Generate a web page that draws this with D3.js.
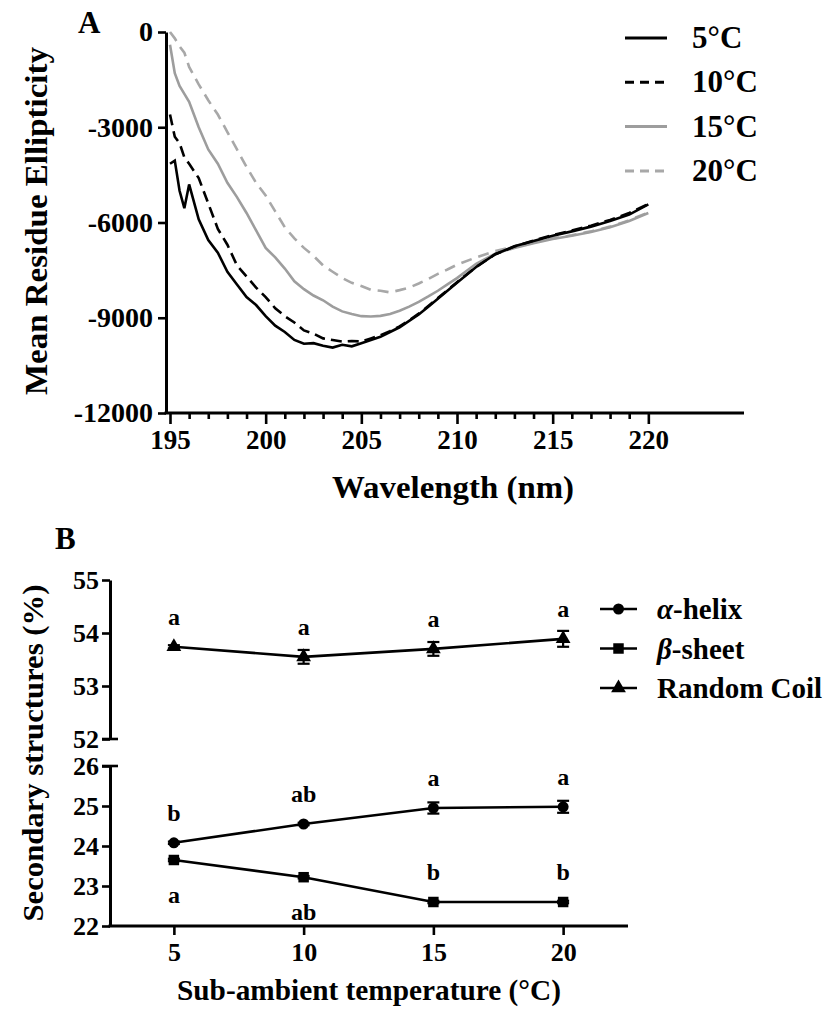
<!DOCTYPE html>
<html><head><meta charset="utf-8">
<script src="https://cdn.jsdelivr.net/npm/d3@7"></script>
<style>body{margin:0;background:#fff}svg{display:block}text{font-family:"Liberation Serif","Times New Roman",serif;font-weight:bold;fill:#000}</style>
</head><body>
<svg id="c" width="827" height="1019"></svg>
<script>
// ---------- Panel A data ----------
const wavelength = [195,195.25,195.5,195.75,196,196.5,197,197.5,198,198.5,199,199.5,200,200.5,201,201.5,202,202.5,203,203.5,204,204.5,205,205.5,206,206.5,207,207.5,208,208.5,209,209.5,210,211,212,213,214,215,216,217,218,219,220];
const cd5  = [-4150,-4050,-5000,-5550,-4800,-5900,-6550,-6950,-7550,-7950,-8350,-8600,-8950,-9250,-9450,-9700,-9820,-9800,-9880,-9940,-9850,-9900,-9800,-9700,-9600,-9450,-9300,-9100,-8900,-8650,-8400,-8150,-7900,-7400,-7000,-6750,-6580,-6420,-6280,-6130,-5950,-5750,-5430];
const cd10 = [-2600,-3300,-3500,-3950,-4150,-4600,-5400,-6200,-6700,-7350,-7700,-8050,-8350,-8700,-8950,-9150,-9400,-9500,-9650,-9700,-9750,-9730,-9750,-9650,-9550,-9420,-9270,-9080,-8870,-8630,-8380,-8130,-7880,-7400,-7000,-6760,-6570,-6400,-6250,-6100,-5920,-5700,-5420];
const cd15 = [-400,-1300,-1700,-1950,-2200,-3000,-3700,-4150,-4750,-5200,-5700,-6250,-6800,-7100,-7450,-7850,-8100,-8300,-8450,-8650,-8800,-8880,-8950,-8960,-8940,-8880,-8780,-8650,-8500,-8330,-8150,-7950,-7750,-7300,-6980,-6800,-6650,-6520,-6420,-6300,-6150,-5950,-5700];
const cd20 = [0,-200,-450,-650,-1100,-1650,-2150,-2600,-3150,-3700,-4250,-4750,-5150,-5650,-6150,-6500,-6800,-7050,-7350,-7550,-7750,-7900,-8000,-8120,-8150,-8200,-8130,-8050,-7920,-7780,-7620,-7480,-7330,-7100,-6900,-6750,-6620,-6500,-6400,-6280,-6130,-5930,-5680];
const seriesA = ["5°C","10°C","15°C","20°C"];
const yTicksA = [0,-3000,-6000,-9000,-12000];
const xTicksA = [195,200,205,210,215,220];

// ---------- Panel B data ----------
const temps = [5,10,15,20];
const helix = [24.08,24.55,24.95,24.98];
const helixErr = [0.03,0.03,0.14,0.15];
const sheet = [23.65,23.22,22.6,22.6];
const sheetErr = [0.03,0.03,0.03,0.03];
const coil = [53.74,53.55,53.70,53.89];
const coilErr = [0.03,0.13,0.13,0.15];
const helixLetters = ["b","ab","a","a"];
const sheetLetters = ["a","ab","b","b"];
const sheetLetterSide = ["below","below","above","above"];
const coilLetters = ["a","a","a","a"];
const yTicksTop = [52,53,54,55];
const yTicksBot = [22,23,24,25,26];
const xTicksB = [5,10,15,20];

const svg = d3.select("#c");
svg.append("rect").attr("width",827).attr("height",1019).attr("fill","#fff");

// ================= Panel A =================
const xA = d3.scaleLinear().domain([195,225]).range([170,744]);
const yA = d3.scaleLinear().domain([-12000,0]).range([413,32]);
const axX = 166;

const gA = svg.append("g");
const yAx = gA.append("g").attr("transform",`translate(${axX},0)`)
  .call(d3.axisLeft(yA).tickValues(yTicksA).tickSize(8).tickSizeOuter(0).tickPadding(5).tickFormat(d=>String(d)));
const xAx = gA.append("g").attr("transform",`translate(0,${yA(-12000)})`)
  .call(d3.axisBottom(xA).tickValues(xTicksA).tickSize(11).tickSizeOuter(0).tickPadding(6).tickFormat(d=>String(d)));
const minor = d3.range(196,220).filter(v=>v%5!==0);
gA.append("g").attr("transform",`translate(0,${yA(-12000)})`)
  .call(d3.axisBottom(xA).tickValues(minor).tickSize(6).tickSizeOuter(0).tickFormat(""))
  .select(".domain").remove();
xAx.select(".domain").remove();
gA.append("line").attr("x1",axX-1.5).attr("x2",xA(225)).attr("y1",yA(-12000)).attr("y2",yA(-12000)).attr("stroke","#000").attr("stroke-width",3);
gA.selectAll(".tick line").attr("stroke-width",2.6);
yAx.select(".domain").attr("stroke-width",3);
yAx.selectAll("text").style("font-size","28px");
xAx.selectAll("text").style("font-size","27px");

const cdSeries = [cd5,cd10,cd15,cd20];
const stylesA = [
  {c:"#000",d:null},
  {c:"#000",d:"11,6"},
  {c:"#9d9d9d",d:null},
  {c:"#a8a8a8",d:"11,7"}
];
const line = d3.line().x(d=>xA(d[0])).y(d=>yA(d[1]));
[3,2,1,0].forEach(i=>{
  const s = cdSeries[i];
  const pts = wavelength.map((w,j)=>[w,s[j]]);
  gA.append("path").datum(pts).attr("d",line).attr("fill","none")
    .attr("stroke",stylesA[i].c).attr("stroke-width",2.6)
    .attr("stroke-dasharray",stylesA[i].d);
});

// legend A
const legA = gA.append("g");
seriesA.forEach((name,i)=>{
  const y = 38 + i*44.3;
  legA.append("line").attr("x1",625).attr("x2",667).attr("y1",y).attr("y2",y)
    .attr("stroke",stylesA[i].c).attr("stroke-width",3).attr("stroke-dasharray",stylesA[i].d?"9,6":null);
  legA.append("text").attr("x",692).attr("y",y+10).style("font-size","31px").text(name);
});

// titles A
svg.append("text").attr("x",78).attr("y",33).style("font-size","31px").text("A");
svg.append("text").attr("transform","translate(47,221) rotate(-90)").attr("text-anchor","middle")
  .style("font-size","31px").attr("textLength",348).attr("lengthAdjust","spacingAndGlyphs").text("Mean Residue Ellipticity");
svg.append("text").attr("x",453).attr("y",498).attr("text-anchor","middle")
  .style("font-size","31px").attr("textLength",242).attr("lengthAdjust","spacingAndGlyphs").text("Wavelength (nm)");

// ================= Panel B =================
const xB = d3.scaleLinear().domain([2.5,22.5]).range([109,628]);
const yTop = d3.scaleLinear().domain([52,55]).range([739,580]);
const yBot = d3.scaleLinear().domain([22,26]).range([926,766]);
const bx = 110;
const gB = svg.append("g");

gB.append("g").attr("transform",`translate(${bx},0)`)
  .call(d3.axisLeft(yTop).tickValues(yTicksTop).tickSize(8).tickSizeOuter(0).tickPadding(3).tickFormat(d3.format("d")));
gB.append("g").attr("transform",`translate(${bx},0)`)
  .call(d3.axisLeft(yBot).tickValues(yTicksBot).tickSize(8).tickSizeOuter(0).tickPadding(3).tickFormat(d3.format("d")));
gB.append("line").attr("x1",bx-8).attr("x2",bx+8).attr("y1",yTop(52)).attr("y2",yTop(52)).attr("stroke","#000").attr("stroke-width",2.6);
gB.append("line").attr("x1",bx-8).attr("x2",bx+8).attr("y1",yBot(26)).attr("y2",yBot(26)).attr("stroke","#000").attr("stroke-width",2.6);
const xBAx = gB.append("g").attr("transform",`translate(0,${yBot(22)})`)
  .call(d3.axisBottom(xB).tickValues(xTicksB).tickSize(9).tickSizeOuter(0).tickPadding(8).tickFormat(d3.format("d")));
xBAx.select(".domain").remove();
gB.append("line").attr("x1",bx-1.5).attr("x2",xB(22.5)).attr("y1",yBot(22)).attr("y2",yBot(22)).attr("stroke","#000").attr("stroke-width",3);
gB.selectAll(".domain").attr("stroke-width",3);
gB.selectAll(".tick line").attr("stroke-width",2.6);
gB.selectAll(".tick text").style("font-size","26px");

function drawSeries(vals, errs, yS, marker){
  const pts = temps.map((t,i)=>[t,vals[i],errs[i]]);
  gB.append("path").datum(pts).attr("fill","none").attr("stroke","#000").attr("stroke-width",2.6)
    .attr("d",d3.line().x(d=>xB(d[0])).y(d=>yS(d[1])));
  pts.forEach(d=>{
    const x = xB(d[0]), yl = yS(d[1]-d[2]), yh = yS(d[1]+d[2]);
    gB.append("line").attr("x1",x).attr("x2",x).attr("y1",yl).attr("y2",yh).attr("stroke","#000").attr("stroke-width",2.2);
    [yl,yh].forEach(yy=>gB.append("line").attr("x1",x-6).attr("x2",x+6).attr("y1",yy).attr("y2",yy).attr("stroke","#000").attr("stroke-width",2.2));
    gB.append("path").attr("transform",`translate(${x},${yS(d[1])})`).attr("d",marker).attr("fill","#000");
  });
}
const circ = d3.symbol().type(d3.symbolCircle).size(95)();
const sq = d3.symbol().type(d3.symbolSquare).size(110)();
const tri = d3.symbol().type(d3.symbolTriangle).size(95)();
drawSeries(helix,helixErr,yBot,circ);
drawSeries(sheet,sheetErr,yBot,sq);
drawSeries(coil,coilErr,yTop,tri);

function letters(vals, yS, labs, sides){
  temps.forEach((t,i)=>{
    const side = sides ? sides[i] : "above";
    const y = yS(vals[i]) + (side==="above" ? -22 : 43);
    gB.append("text").attr("x",xB(t)).attr("y",y).attr("text-anchor","middle").style("font-size","24px").text(labs[i]);
  });
}
letters(helix,yBot,helixLetters,null);
letters(sheet,yBot,sheetLetters,sheetLetterSide);
letters(coil,yTop,coilLetters,null);

// legend B
const legNames = [["α","-helix"],["β","-sheet"],["","Random Coil"]];
const legMarks = [circ,sq,tri];
legNames.forEach((n,i)=>{
  const y = 609 + i*39.5;
  gB.append("line").attr("x1",600).attr("x2",637).attr("y1",y).attr("y2",y).attr("stroke","#000").attr("stroke-width",2.6);
  gB.append("path").attr("transform",`translate(618.5,${y})`).attr("d",legMarks[i]).attr("fill","#000");
  const t = gB.append("text").attr("x",657).attr("y",y+10).style("font-size","29px");
  if(n[0]) t.append("tspan").style("font-style","italic").text(n[0]);
  t.append("tspan").text(n[1]);
});

// titles B
svg.append("text").attr("x",55).attr("y",549).style("font-size","31px").text("B");
svg.append("text").attr("transform","translate(43,753) rotate(-90)").attr("text-anchor","middle")
  .style("font-size","29px").attr("textLength",337).attr("lengthAdjust","spacingAndGlyphs").text("Secondary structures (%)");
svg.append("text").attr("x",369).attr("y",1000).attr("text-anchor","middle")
  .style("font-size","30px").attr("textLength",384).attr("lengthAdjust","spacingAndGlyphs").text("Sub-ambient temperature (°C)");
</script>
</body></html>
